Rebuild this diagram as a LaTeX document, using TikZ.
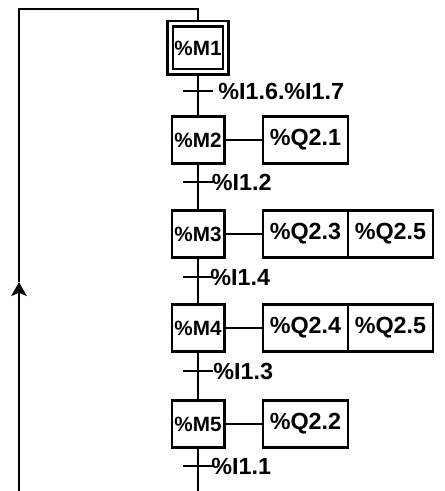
\documentclass[tikz,border=0pt]{standalone}
\usepackage{fontspec}
\setmainfont{Liberation Sans}
\usetikzlibrary{arrows.meta}
\begin{document}
\begin{tikzpicture}[x=0.75pt,y=0.75pt,yscale=-1,xscale=1,line width=2pt,
	etape/.style={draw, minimum width=39.25pt, minimum height=35.5pt, inner sep=0pt, font=\bfseries\fontsize{15.5}{18}\selectfont},
	init/.style={etape, double, double distance=2.25pt, minimum width=41.7pt, minimum height=36pt, outer sep=3.1pt},
	action/.style={draw, minimum width=63.75pt, minimum height=35.5pt, inner sep=0pt, font=\bfseries\fontsize{17.5}{20}\selectfont},
	recep/.style={anchor=west, inner sep=0pt, font=\bfseries\fontsize{17.5}{20}\selectfont}]
\path[use as bounding box] (0,0) rectangle (444,491);

%Steps
	\node[init] (M1) at (198,48) {\%M1};
	\node[etape] (M2) at (198,140) {\%M2};
	\node[etape] (M3) at (198,234) {\%M3};
	\node[etape] (M4) at (198,328) {\%M4};
	\node[etape] (M5) at (198,424) {\%M5};
%Actions
	\node[action] (Q21) at (305.5,140) {\%Q2.1};
	\node[action] (Q23) at (305.5,234) {\%Q2.3};
	\node[action] (Q25a) at (390.5,234) {\%Q2.5};
	\node[action] (Q24) at (305.5,328) {\%Q2.4};
	\node[action] (Q25b) at (390.5,328) {\%Q2.5};
	\node[action] (Q22) at (305.5,424) {\%Q2.2};

%Transitions
	\coordinate (t1) at (198,91);
	\coordinate (t2) at (198,182);
	\coordinate (t3) at (198,277);
	\coordinate (t4) at (198,371);
	\coordinate (t5) at (198,466);
	\foreach \t in {t1,t2,t3,t4,t5}
		\draw ([xshift=-10.9pt]\t) -- ([xshift=10.9pt]\t);

%Straight Lines
	\draw (M1) -- (M2) -- (M3) -- (M4) -- (M5);
	\draw (M2) -- (Q21);
	\draw (M3) -- (Q23);
	\draw (M4) -- (Q24);
	\draw (M5) -- (Q22);

%Loop back
	\coordinate (bas) at (198,491);
	\coordinate (basG) at (19,491);
	\coordinate (fleche) at (19,282);
	\coordinate (haut) at (19,9);
	\draw (M5) -- (bas);
	\draw [-{Stealth[length=10.5pt,width=11.5pt,inset=2.5pt]}] (basG) -- (fleche);
	\draw (fleche) -- (haut) -| (M1.north);

% Text Node
	\node[recep] (r1) at (217,91) {\%I1.6.\%I1.7};
% Text Node
	\node[recep] (r2) at (210.5,182) {\%I1.2};
% Text Node
	\node[recep] (r3) at (209,277) {\%I1.4};
% Text Node
	\node[recep] (r4) at (212,371) {\%I1.3};
% Text Node
	\node[recep] (r5) at (210,466) {\%I1.1};

\end{tikzpicture}
\end{document}
